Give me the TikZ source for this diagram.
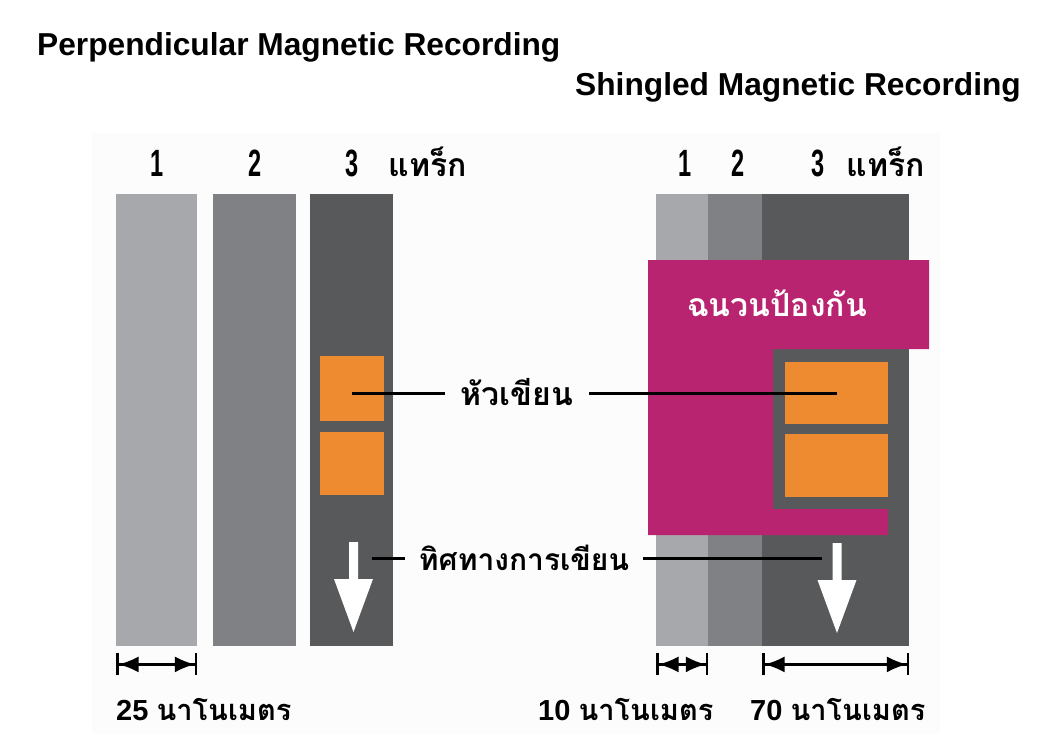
\documentclass[tikz,border=0pt]{standalone}
\usepackage{fontspec}
\setmainfont{Liberation Sans}
\newfontfamily\thaifont[Script=Thai]{Loma}
\newfontfamily\condfont[FakeStretch=0.62]{Liberation Sans}
\usetikzlibrary{arrows.meta, positioning}
\definecolor{trackA}{HTML}{A7A8AB}
\definecolor{trackB}{HTML}{808184}
\definecolor{trackC}{HTML}{58595B}
\definecolor{headcol}{HTML}{EE8A2F}
\definecolor{shieldcol}{HTML}{B8246F}
\definecolor{paper}{HTML}{FCFCFC}
% white write-direction arrow: centre x, top y
\newcommand{\dirarrow}[2]{%
  \fill[white] ({#1-4.5},#2) -- ({#1+4.5},#2) -- ({#1+4.5},{#2+37}) -- ({#1+19.5},{#2+37})
    -- (#1,{#2+90}) -- ({#1-19.5},{#2+37}) -- ({#1-4.5},{#2+37}) -- cycle;}
\tikzset{
  track/.style={inner sep=0, minimum height=452pt, anchor=north west},
  head/.style={fill=headcol, inner sep=0, anchor=north west},
  num/.style={font=\condfont\bfseries\fontsize{38}{40}\selectfont, inner sep=0},
  thai/.style={font=\thaifont\bfseries\fontsize{32}{36}\selectfont, inner sep=0},
  leaderlbl/.style={thai, text height=24pt, text depth=0pt, inner ysep=0, inner xsep=16pt},
  title/.style={font=\bfseries\fontsize{31.7}{34}\selectfont, anchor=west, inner sep=0},
  leader/.style={line width=3pt},
  dim/.style={line width=2.5pt, {Bar[width=22pt]Latex[length=20pt,width=16pt]}-{Latex[length=20pt,width=16pt]Bar[width=22pt]}},
  dimlbl/.style={anchor=base west, inner sep=0, font=\bfseries\fontsize{29}{32}\selectfont}
}
\begin{document}
\begin{tikzpicture}[x=1pt, y=-1pt]
  \useasboundingbox (0,0) rectangle (1060,747);
  \fill[paper] (92,133) rectangle (940,734);

  \node[title] (pmr) at (37,47) {Perpendicular Magnetic Recording};
  \node[title] (smr) at (575,87) {Shingled Magnetic Recording};

  % perpendicular
  \node[track, fill=trackA, minimum width=81pt] (t1) at (116,194) {};
  \node[track, fill=trackB, minimum width=83pt] (t2) at (213,194) {};
  \node[track, fill=trackC, minimum width=83pt] (t3) at (310,194) {};
  \node[head, minimum width=64pt, minimum height=65pt] (h1) at (320,356) {};
  \node[head, minimum width=64pt, minimum height=63pt] (h2) at (320,432) {};
  \dirarrow{353.5}{542}

  % shingled
  \node[track, fill=trackA, minimum width=52pt] (r1) at (656,194) {};
  \node[track, fill=trackB, minimum width=54pt] (r2) at (708,194) {};
  \node[track, fill=trackC, minimum width=147pt] (r3) at (762,194) {};
  \fill[shieldcol] (648,260) -- (929,260) -- (929,349) -- (773,349) -- (773,509)
    -- (888,509) -- (888,535) -- (648,535) -- cycle;
  \node[head, minimum width=103pt, minimum height=62pt] (h3) at (785,362) {};
  \node[head, minimum width=103pt, minimum height=63pt] (h4) at (785,434) {};
  \dirarrow{837}{543}
  \node[thai, text=white] (shield) at (777,303) {ฉนวนป้องกัน};

  \node[num, above=17pt of t1] (n1) {1};
  \node[num, above=17pt of t2] (n2) {2};
  \node[num, above=17pt of t3] (n3) {3};
  \node[thai, anchor=base west] (trk1) at ([xshift=30pt]n3.base east) {แทร็ก};
  \node[num, above=17pt of r1, xshift=3pt] (m1) {1};
  \node[num, above=17pt of r2, xshift=3pt] (m2) {2};
  \node[num, above=17pt of r3, xshift=-18pt] (m3) {3};
  \node[thai, anchor=base west] (trk2) at ([xshift=22pt]m3.base east) {แทร็ก};

  \node[leaderlbl] (headlbl) at (517,393) {หัวเขียน};
  \draw[leader] (headlbl.west) -- (headlbl.west -| h1.center);
  \draw[leader] (headlbl.east) -- (headlbl.east -| h3.center);
  \coordinate (d1) at (372,558);
  \coordinate (d2) at (822,558);
  \node[leaderlbl, font=\thaifont\bfseries\fontsize{30}{34}\selectfont, inner xsep=14pt] (dirlbl) at (524,558) {ทิศทางการเขียน};
  \draw[leader] (dirlbl.west) -- (d1);
  \draw[leader] (dirlbl.east) -- (d2);

  \draw[dim] ([yshift=-18pt]t1.south west) -- ([yshift=-18pt]t1.south east);
  \draw[dim] ([yshift=-18pt]r1.south west) -- ([yshift=-18pt]r1.south east);
  \draw[dim] ([yshift=-18pt]r3.south west) -- ([yshift=-18pt]r3.south east);
  \node[dimlbl] (w1) at (116,720) {25 {\thaifont นาโนเมตร}};
  \node[dimlbl] (w2) at (538,720) {10 {\thaifont นาโนเมตร}};
  \node[dimlbl] (w3) at (750,720) {70 {\thaifont นาโนเมตร}};
\end{tikzpicture}
\end{document}
